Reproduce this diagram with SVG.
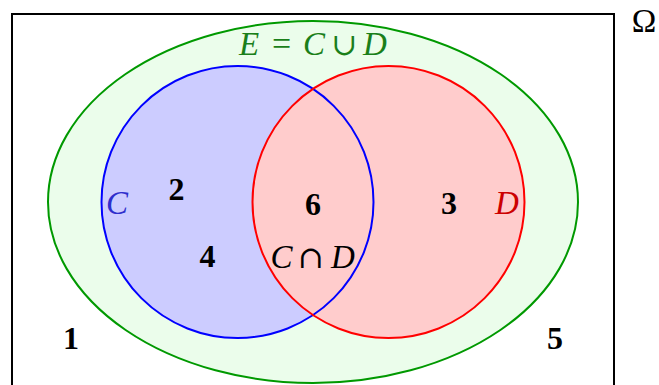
<svg xmlns="http://www.w3.org/2000/svg" width="659" height="385" viewBox="0 0 659 385">
<style>
  .num { font-family: "Liberation Serif", "DejaVu Serif", serif; font-weight: bold; font-size: 32px; fill: #000; text-anchor: middle; }
  .mi { font-family: "Liberation Serif", "DejaVu Serif", serif; font-style: italic; font-size: 33px; text-anchor: middle; }
  .mo { font-family: "Liberation Serif", "DejaVu Serif", serif; font-size: 30px; text-anchor: middle; }
  .op { font-family: "DejaVu Serif", "Liberation Serif", serif; font-size: 31px; text-anchor: middle; }
</style>
<rect x="0" y="0" width="659" height="385" fill="#fff"/>
<g id="omega">
  <rect x="12" y="14" width="602" height="400" fill="#fff" stroke="#000" stroke-width="2"/>
  <text class="mo" x="644" y="32" style="font-size:33px" fill="#000">Ω</text>
</g>
<g id="E">
  <ellipse cx="313" cy="202" rx="265" ry="181" fill="#ebfdeb" stroke="#009900" stroke-width="2"/>
</g>
<g id="fills">
  <circle cx="237.5" cy="202" r="136" fill="#ccccff"/>
  <circle cx="388.5" cy="202" r="136" fill="#ffcccc"/>
</g>
<g id="C">
  <circle cx="237.5" cy="202" r="136" fill="none" stroke="#0000ff" stroke-width="2"/>
</g>
<g id="D">
  <circle cx="388.5" cy="202" r="136" fill="none" stroke="#ff0000" stroke-width="2"/>
</g>
<g id="labels">
  <g fill="#1a7f1a">
    <text class="mi" x="249" y="55">E</text>
    <text class="mo" x="281.5" y="55" style="font-size:34px">=</text>
    <text class="mi" x="314" y="55">C</text>
    <text class="op" x="344.5" y="55">∪</text>
    <text class="mi" x="375" y="55">D</text>
  </g>
  <text class="mi" x="117" y="214" fill="#2e2ecc">C</text>
  <text class="mi" x="507" y="214" fill="#cc0000">D</text>
  <g fill="#000">
    <text class="mi" x="281.5" y="268">C</text>
    <text class="op" x="311" y="268">∩</text>
    <text class="mi" x="343" y="268">D</text>
  </g>
  <text class="num" x="176.5" y="200">2</text>
  <text class="num" x="313" y="215">6</text>
  <text class="num" x="449" y="214">3</text>
  <text class="num" x="207.5" y="267">4</text>
  <text class="num" x="71" y="349">1</text>
  <text class="num" x="555" y="349">5</text>
</g>
</svg>
